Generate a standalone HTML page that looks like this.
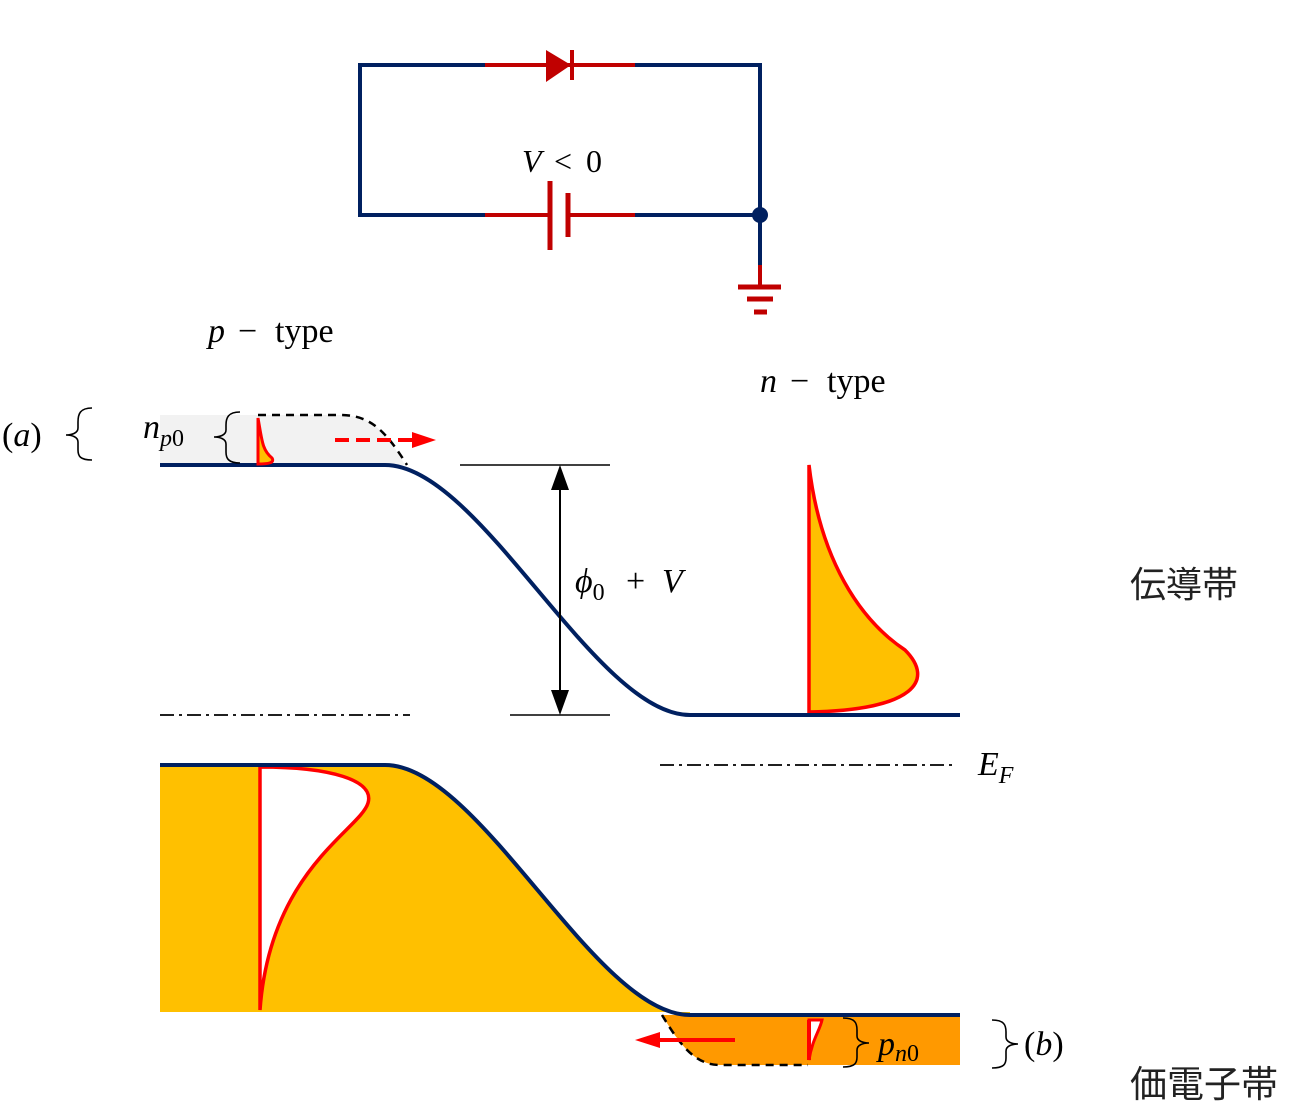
<!DOCTYPE html>
<html><head><meta charset="utf-8"><style>
html,body{margin:0;padding:0;background:#fff}
svg{display:block}
.m{font-family:"Liberation Serif",serif;font-style:italic;fill:#000}
.r{font-family:"Liberation Serif",serif;fill:#000}
.j{font-family:"Liberation Sans","Noto Sans CJK JP",sans-serif;fill:#222}
</style></head><body>
<svg width="1303" height="1118" viewBox="0 0 1303 1118" xmlns="http://www.w3.org/2000/svg">
<g fill="none" stroke-width="4">
<path d="M485 65 H360 V215 H485" stroke="#002060"/>
<path d="M635 65 H760 V265" stroke="#002060"/>
<path d="M635 215 H760" stroke="#002060"/>
<path d="M485 65 H635" stroke="#C00000"/>
<path d="M485 215 H550 M568 215 H635" stroke="#C00000"/>
<path d="M550 181 V250" stroke="#C00000" stroke-width="5"/>
<path d="M568 193 V237" stroke="#C00000" stroke-width="5"/>
<path d="M572 50 V80" stroke="#C00000" stroke-width="4"/>
<path d="M760 265 V287" stroke="#C00000"/>
<path d="M738 287 H781 M747 299 H773 M754 312 H767" stroke="#C00000" stroke-width="5"/>
</g>
<path d="M546 50 L571 65 L546 82 Z" fill="#C00000"/>
<circle cx="760" cy="215" r="8" fill="#002060"/>
<text x="522" y="172" class="m" font-size="32">V</text>
<text x="554" y="172" class="r" font-size="32">&lt;</text>
<text x="586" y="172" class="r" font-size="32">0</text>

<path d="M160 415 H340 C370 415 385 430 405 465 H160 Z" fill="#F2F2F2"/>
<path d="M160 765 H385 C480 765 595 1015 690 1015 H690 L690 1012 H160 Z" fill="#FFC000"/>
<path d="M662 1015 H960 V1065 H720 C695 1065 680 1045 662 1015 Z" fill="#FF9900"/>
<path d="M662 1015 C680 1045 695 1065 720 1065 H808" fill="none" stroke="#000" stroke-width="2.5" stroke-dasharray="8 6"/>
<path d="M260 767 C330 767 375 780 368 803 C360 830 270 870 260 1010 Z" fill="#fff" stroke="#FF0000" stroke-width="3.5"/>
<path d="M809 465 C820 560 860 620 905 650 C935 680 915 710 809 712 Z" fill="#FFC000" stroke="#FF0000" stroke-width="3.5"/>
<path d="M160 465 H385 C480 465 595 715 690 715 H960" fill="none" stroke="#002060" stroke-width="4"/>
<path d="M160 765 H385 C480 765 595 1015 690 1015 H960" fill="none" stroke="#002060" stroke-width="4"/>
<path d="M258 415 H340 C370 415 385 430 407 465" fill="none" stroke="#000" stroke-width="2.5" stroke-dasharray="8 6"/>
<path d="M258 418 C262 440 262 450 272 458 C275 463 268 464 258 464 Z" fill="#FFC000" stroke="#FF0000" stroke-width="3"/>
<path d="M809 1060 C812 1040 820 1030 822 1020 H809 Z" fill="#fff" stroke="#FF0000" stroke-width="3"/>
<path d="M809 1020 V1060" stroke="#FF0000" stroke-width="4"/>
<path d="M335 440 H415" stroke="#FF0000" stroke-width="4" stroke-dasharray="14 7" fill="none"/>
<path d="M412 432 L436 440 L412 448 Z" fill="#FF0000"/>
<path d="M735 1040 H660" stroke="#FF0000" stroke-width="4"/>
<path d="M660 1032 L635 1040 L660 1048 Z" fill="#FF0000"/>
<g stroke="#000" stroke-width="1.8" stroke-dasharray="14 5 3 5" fill="none">
<path d="M160 715 H410"/>
<path d="M660 765 H955"/>
</g>
<path d="M460 465 H610 M510 715 H610" stroke="#000" stroke-width="1.5"/>
<path d="M560 485 V695" stroke="#000" stroke-width="2"/>
<path d="M551 490 L560 465 L569 490 Z M551 690 L560 715 L569 690 Z" fill="#000"/>
<g fill="none" stroke="#000" stroke-width="1.6">
<path d="M92 408 C80 408 78 414 78 422 V428 C78 433 72 435 66 435 C72 435 78 437 78 442 V450 C78 456 80 460 92 460"/>
<path d="M240 412 C228 412 226 418 226 425 V430 C226 435 220 437 214 437 C220 437 226 439 226 444 V452 C226 458 228 463 240 463"/>
<path d="M843 1018 C855 1018 857 1023 857 1030 V1036 C857 1041 863 1043 869 1043 C863 1043 857 1045 857 1050 V1057 C857 1063 855 1067 843 1067"/>
<path d="M992 1020 C1004 1020 1006 1025 1006 1032 V1037 C1006 1042 1012 1044 1018 1044 C1012 1044 1006 1046 1006 1051 V1058 C1006 1064 1004 1068 992 1068"/>
</g>
<text x="208" y="342" class="m" font-size="34">p</text>
<text x="238" y="342" class="r" font-size="34">−</text>
<text x="275" y="342" class="r" font-size="34">type</text>
<text x="760" y="392" class="m" font-size="34">n</text>
<text x="790" y="392" class="r" font-size="34">−</text>
<text x="827" y="392" class="r" font-size="34">type</text>
<text x="2" y="446" class="r" font-size="34">(<tspan class="m">a</tspan>)</text>
<text x="143" y="438" class="m" font-size="34">n<tspan font-size="24" dy="8">p</tspan><tspan font-size="24" class="r" font-style="normal">0</tspan></text>
<text x="575" y="592" class="m" font-size="34">ϕ<tspan font-size="24" dy="8" font-style="normal">0</tspan></text>
<text x="626" y="592" class="r" font-size="34">+</text>
<text x="662" y="592" class="m" font-size="34">V</text>
<text x="978" y="775" class="m" font-size="34">E<tspan font-size="24" dy="8">F</tspan></text>
<text x="878" y="1055" class="m" font-size="34">p<tspan font-size="24" dy="6">n</tspan><tspan font-size="24" font-style="normal">0</tspan></text>
<text x="1024" y="1055" class="r" font-size="34">(<tspan class="m">b</tspan>)</text>
<text x="1130" y="597" class="j" font-size="36">伝導帯</text>
<text x="1130" y="1097" class="j" font-size="37">価電子帯</text>
</svg>
</body></html>
